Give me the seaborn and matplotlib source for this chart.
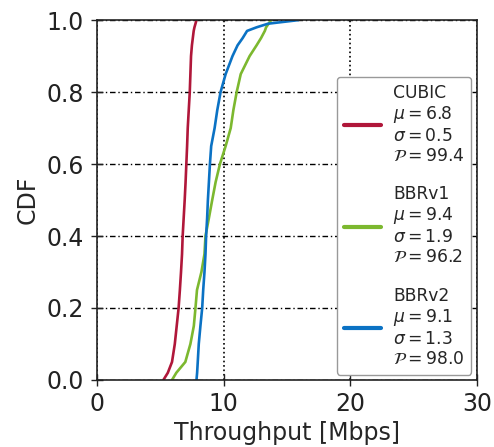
import numpy as np
import pandas as pd
import seaborn as sns
import matplotlib.pyplot as plt

# niveis do CDF e quantis (Mbps)
cdf_levels = [0.0, 0.02, 0.05, 0.10, 0.15, 0.20, 0.25, 0.30, 0.35, 0.40, 0.45, 0.50,
              0.55, 0.60, 0.65, 0.70, 0.75, 0.80, 0.85, 0.90, 0.93, 0.95, 0.97, 0.98,
              0.99, 1.0]
cubic = [5.25, 5.6, 5.93, 6.15, 6.3, 6.45, 6.55, 6.64, 6.72, 6.77, 6.85, 6.93,
         7.0, 7.06, 7.12, 7.17, 7.25, 7.33, 7.38, 7.43, 7.5, 7.57, 7.64, 7.7,
         7.78, 7.86]
bbrv1 = [5.93, 6.27, 6.98, 7.38, 7.65, 7.78, 7.9, 8.25, 8.49, 8.57, 8.84, 9.1,
         9.37, 9.71, 10.16, 10.56, 10.77, 11.03, 11.35, 12.05, 12.6, 12.95, 13.25, 13.35,
         13.55, 13.75]
bbrv2 = [7.86, 7.91, 7.96, 8.04, 8.17, 8.31, 8.39, 8.49, 8.57, 8.62, 8.7, 8.76,
         8.84, 8.92, 9.02, 9.29, 9.5, 9.76, 10.16, 10.7, 11.1, 11.5, 11.85, 12.6,
         13.5, 15.9]

nomes = ['CUBIC', 'BBRv1', 'BBRv2']
mu = [6.8, 9.4, 9.1]
sigma = [0.5, 1.9, 1.3]
p_val = [99.4, 96.2, 98.0]
cores = ['#b0173a', '#7cb82f', '#0b72c4']

rotulos = []
for n, m, s, p in zip(nomes, mu, sigma, p_val):
    rotulos.append('{}\n$\\mu = {}$\n$\\sigma = {}$\n$\\mathcal{{P}} = {}$'.format(n, m, s, p))

df = pd.concat([
    pd.DataFrame({'Throughput': vals, 'CDF': cdf_levels, 'cc': r})
    for vals, r in zip([cubic, bbrv1, bbrv2], rotulos)
])

sns.set_style('ticks')
plt.rcParams['font.family'] = ['DejaVu Sans']

fig = plt.figure(figsize=(4.94, 4.47), dpi=100)
ax = fig.add_axes([0.196, 0.150, 0.770, 0.805])

sns.lineplot(data=df, x='Throughput', y='CDF', hue='cc', palette=cores,
             sort=False, estimator=None, lw=1.9, ax=ax)

ax.set_xlim(0, 30)
ax.set_ylim(0, 1)
ax.set_xticks([0, 10, 20, 30])
ax.set_yticks([0, 0.2, 0.4, 0.6, 0.8, 1.0])
ax.tick_params(direction='inout', length=8.5, width=1, labelsize=17, colors='#222222')
ax.tick_params(axis='x', pad=4.5)
ax.tick_params(axis='y', pad=5)
ax.set_xlabel('Throughput [Mbps]', fontsize=17, labelpad=3.5)
ax.set_ylabel('CDF', fontsize=17, labelpad=5)
ax.grid(axis='y', color='black', linestyle=(0, (4, 2, 1, 2)), linewidth=1.0)
ax.grid(axis='x', color='black', linestyle=':', linewidth=1.2)
for sp in ax.spines.values():
    sp.set_linewidth(1.2)
    sp.set_color('#222222')

leg = ax.legend(loc='lower right', bbox_to_anchor=(0.985, 0.015), fontsize=12.3,
                handlelength=2.2, handletextpad=0.7, labelspacing=1.2,
                borderpad=0.4, borderaxespad=0, frameon=True, fancybox=True,
                edgecolor='#999999', framealpha=1)
for l in leg.get_lines():
    l.set_linewidth(3)
for t in leg.get_texts():
    t.set_linespacing(1.14)

fig.savefig('out.png', dpi=100)
